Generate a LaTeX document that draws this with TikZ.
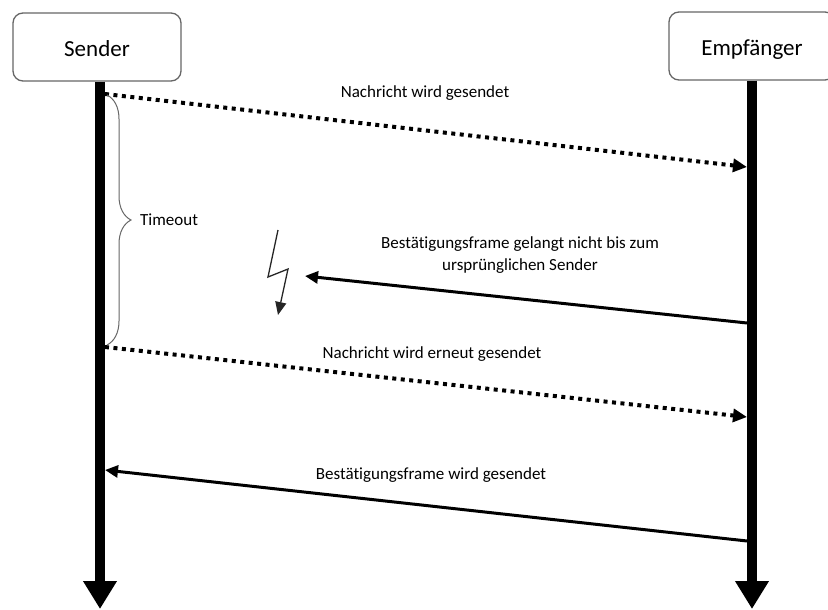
\documentclass[tikz,border=0pt]{standalone}
\usepackage{fontspec}
\setmainfont{Carlito}[Ligatures=NoCommon]
\usetikzlibrary{arrows.meta,decorations.pathreplacing}
\begin{document}
\begin{tikzpicture}[x=1pt,y=-1pt,
  actor/.style={draw=black!60, line width=1.3pt, rounded corners=10pt,
    minimum width=168pt, minimum height=68pt, inner sep=0pt,
    text height=20pt, text depth=0pt,
    font=\fontsize{23}{27}\selectfont},
  lifeline/.style={line width=10pt, -{Triangle[width=32pt,length=28pt]}},
  msgdot/.style={line width=4pt, dash pattern=on 4pt off 4.5pt,
    -{Triangle[width=13pt,length=14pt]}},
  msgline/.style={line width=3pt, -{Triangle[width=12pt,length=13pt]}},
  lbl/.style={font=\fontsize{17}{22}\selectfont, inner sep=0pt, anchor=base},
  bracestyle/.style={draw=black!60, line width=1pt, decorate,
    decoration={brace, amplitude=24pt}},
  bolt/.style={draw=black!85, line width=1.3pt,
    -{Triangle[width=11pt,length=13pt]}},
]
\useasboundingbox (0,0) rectangle (828,610);

% participants
\node[actor] (sender) at (97,47) {Sender};
\node[actor, minimum width=166pt] (empf) at (752,46) {Empfänger};

% lifelines
\coordinate (sEnd) at (100,609);
\coordinate (eEnd) at (752,609);
\draw[lifeline] (sEnd |- sender.south) -- (sEnd);
\draw[lifeline] (eEnd |- empf.south) -- (eEnd);

% message end points on the lifelines
\coordinate (m1s) at (105,94);
\coordinate (m1e) at (747,167);
\coordinate (m2s) at (747,323);
\coordinate (m2e) at (305,276);
\coordinate (m3s) at (105,347);
\coordinate (m3e) at (747,417);
\coordinate (m4s) at (747,541);
\coordinate (m4e) at (105,470);

% messages
\draw[msgdot] (m1s) -- (m1e);
\draw[msgline] (m2s) -- (m2e);
\draw[msgdot] (m3s) -- (m3e);
\draw[msgline] (m4s) -- (m4e);

% labels (the two-line label sits on the baseline of its last line)
\node[lbl] (l1) at (425,98) {Nachricht wird gesendet};
\node[lbl, align=center] (l2) at (520,270) {Bestätigungsframe gelangt nicht bis zum\\ursprünglichen Sender};
\node[lbl] (l3) at (432,358) {Nachricht wird erneut gesendet};
\node[lbl] (l4) at (431,479) {Bestätigungsframe wird gesendet};

% timeout brace
\coordinate (bTop) at (107,95);
\coordinate (bBot) at (107,345);
\draw[bracestyle] (bTop) -- (bBot);
\node[lbl, anchor=base west] (timeout) at (140,225) {Timeout};

% lost acknowledgement: lightning bolt
\draw[bolt] (278,230) -- (268,277) -- (288,269) -- (278,315);
\end{tikzpicture}
\end{document}
